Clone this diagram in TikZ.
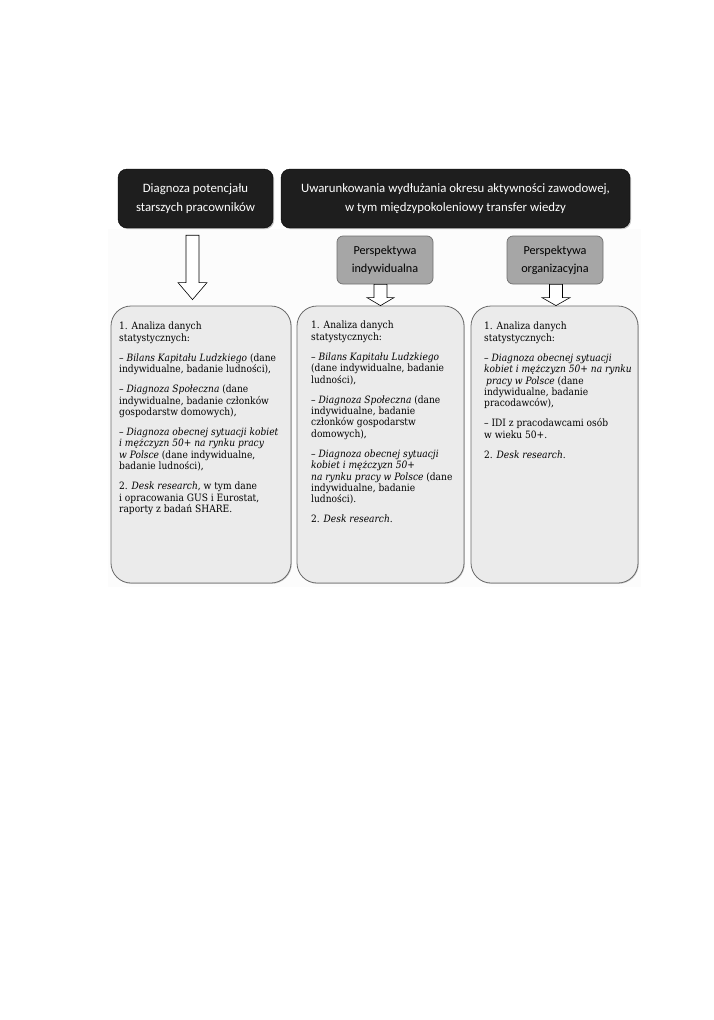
\documentclass[tikz,border=0pt]{standalone}
\usepackage{fontspec}
\setmainfont{DejaVu Serif Condensed}
\newfontfamily\hdrfont{Carlito}
\usetikzlibrary{calc,positioning,shadows}
\definecolor{hdrblack}{HTML}{1E1E1E}
\definecolor{perspgray}{HTML}{A6A6A6}
\definecolor{perspedge}{HTML}{6F6F6F}
\definecolor{resfill}{HTML}{EBEBEB}
\definecolor{resedge}{HTML}{6A6A6A}
\definecolor{backfill}{HTML}{FCFCFC}
\tikzstyle{hdr} = [rectangle, rounded corners=9pt, fill=hdrblack, draw=black, text=white, align=center, font=\hdrfont\fontsize{12.8}{19}\selectfont, minimum height=59pt, drop shadow={shadow xshift=1.2pt, shadow yshift=-1.2pt, fill=black!45}]
\tikzstyle{persp} = [rectangle, rounded corners=6pt, fill=perspgray, draw=perspedge, line width=0.7pt, align=center, font=\hdrfont\fontsize{12.2}{18}\selectfont, minimum width=96pt, minimum height=48pt]
\tikzstyle{res} = [rectangle, rounded corners=20pt, fill=resfill, draw=resedge, line width=0.8pt, minimum height=277pt, drop shadow={shadow xshift=0.8pt, shadow yshift=-0.8pt, fill=black!40}]
\tikzstyle{restext} = [anchor=north west, inner sep=0pt, align=left, font=\fontsize{10.1}{11.4}\selectfont]
\tikzstyle{arrowbox} = [draw=black, fill=white, line width=0.6pt, line join=miter]
% tail, tip, half shaft, half head, head length
\newcommand{\blockarrow}[5]{%
  \draw[arrowbox] ($(#1)+(-#3,0)$) -- ($(#1)+(#3,0)$) -- ($(#2)+(#3,-#5)$) -- ($(#2)+(#4,-#5)$)
    -- (#2) -- ($(#2)+(-#4,-#5)$) -- ($(#2)+(-#3,-#5)$) -- cycle;}

\begin{document}
\begin{tikzpicture}[x=1pt, y=-1pt]
\fill[white] (0,0) rectangle (714,1020);
\useasboundingbox (0,0) rectangle (714,1020);
\fill[backfill] (108,229) rectangle (641,587);

\node (diag) [hdr, minimum width=155pt] at (195.5,198.5) {Diagnoza potencjału\\starszych pracowników};
\node (uwar) [hdr, minimum width=349pt] at (455.5,198.5) {Uwarunkowania wydłużania okresu aktywności zawodowej,\\w tym międzypokoleniowy transfer wiedzy};

\node (indyw) [persp] at (385,260) {Perspektywa\\indywidualna};
\node (organ) [persp] at (555,260) {Perspektywa\\organizacyjna};

\node (res1) [res, minimum width=180pt] at (201,444.5) {};
\node (res2) [res, minimum width=167pt] at (380.5,444.5) {};
\node (res3) [res, minimum width=167pt] at (554.5,444.5) {};

\node (res1txt) [restext] at (119,322) {1. Analiza danych\\statystycznych:\\[8.6pt]
– \textit{Bilans Kapitału Ludzkiego} (dane\\indywidualne, badanie ludności),\\[8.6pt]
– \textit{Diagnoza Społeczna} (dane\\indywidualne, badanie członków\\gospodarstw domowych),\\[8.6pt]
– \textit{Diagnoza obecnej sytuacji kobiet}\\\textit{i mężczyzn 50+ na rynku pracy}\\\textit{w Polsce} (dane indywidualne,\\badanie ludności),\\[8.6pt]
2. \textit{Desk research}, w tym dane\\i opracowania GUS i Eurostat,\\raporty z badań SHARE.};

\node (res2txt) [restext] at (311,321) {1. Analiza danych\\statystycznych:\\[8.6pt]
– \textit{Bilans Kapitału Ludzkiego}\\(dane indywidualne, badanie\\ludności),\\[8.6pt]
– \textit{Diagnoza Społeczna} (dane\\indywidualne, badanie\\członków gospodarstw\\domowych),\\[8.6pt]
– \textit{Diagnoza obecnej sytuacji}\\\textit{kobiet i mężczyzn 50+}\\\textit{na rynku pracy w Polsce} (dane\\indywidualne, badanie\\ludności).\\[8.6pt]
2. \textit{Desk research}.};

\node (res3txt) [restext] at (484,322) {1. Analiza danych\\statystycznych:\\[8.6pt]
– \textit{Diagnoza obecnej sytuacji}\\\textit{kobiet i mężczyzn 50+ na rynku}\\\hspace{2pt}\textit{pracy w Polsce} (dane\\indywidualne, badanie\\pracodawców),\\[8.6pt]
– IDI z pracodawcami osób\\w wieku 50+.\\[8.6pt]
2. \textit{Desk research}.};

\coordinate (a1s) at ($(diag.south)+(-3,7)$);
\coordinate (a1e) at ($(a1s |- res1.north)+(0,-6)$);
\blockarrow{a1s}{a1e}{6.5}{14.5}{17}

\coordinate (a2s) at ($(indyw.south)+(-4.5,0)$);
\coordinate (a2e) at (a2s |- res2.north);
\blockarrow{a2s}{a2e}{6.5}{13.5}{8}

\coordinate (a3s) at ($(organ.south)+(1,0)$);
\coordinate (a3e) at (a3s |- res3.north);
\blockarrow{a3s}{a3e}{6.5}{14}{8}

\end{tikzpicture}
\end{document}
